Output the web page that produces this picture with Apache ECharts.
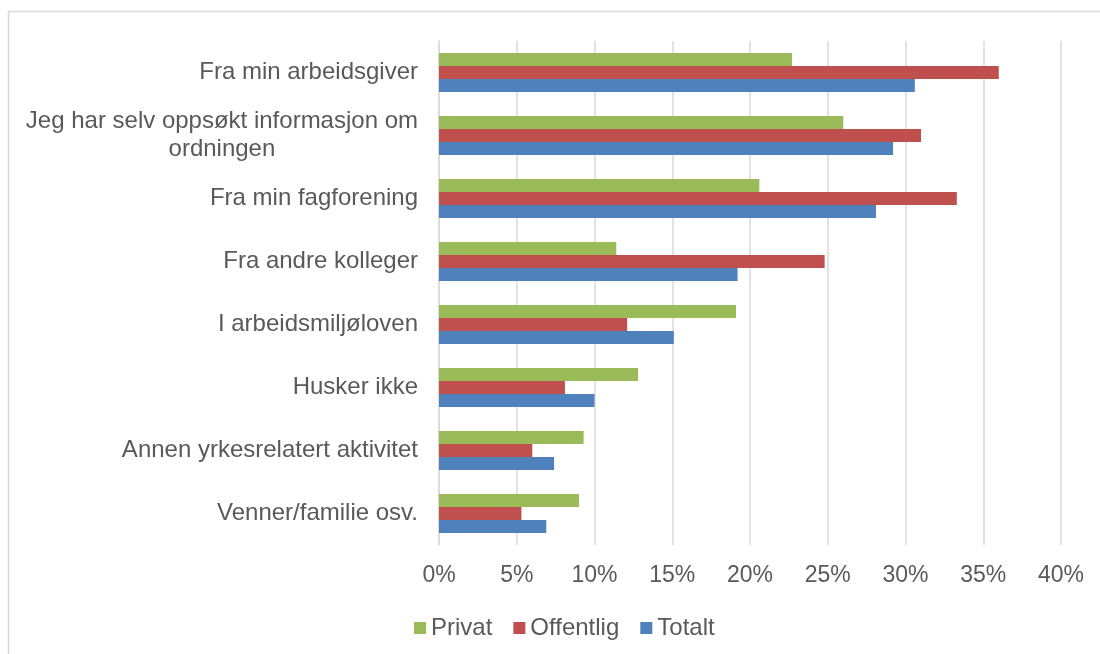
<!DOCTYPE html>
<html>
<head>
<meta charset="utf-8">
<script src="https://cdn.jsdelivr.net/npm/echarts@6/dist/echarts.min.js"></script>
<style>
html,body{margin:0;padding:0;background:#fff;}
#chart{width:1100px;height:654px;}
</style>
</head>
<body>
<div id="chart"></div>
<script>
var categories = [
  "Fra min arbeidsgiver",
  "Jeg har selv oppsøkt informasjon om\nordningen",
  "Fra min fagforening",
  "Fra andre kolleger",
  "I arbeidsmiljøloven",
  "Husker ikke",
  "Annen yrkesrelatert aktivitet",
  "Venner/familie osv."
];
var privat    = [22.7, 26.0, 20.6, 11.4, 19.1, 12.8, 9.3, 9.0];
var offentlig = [36.0, 31.0, 33.3, 24.8, 12.1, 8.1, 6.0, 5.3];
var totalt    = [30.6, 29.2, 28.1, 19.2, 15.1, 10.0, 7.4, 6.9];
var tickValues = [0, 5, 10, 15, 20, 25, 30, 35, 40];

var FONT = '"Liberation Sans", Arial, sans-serif';
var TXT = '#595959';

var chart = echarts.init(document.getElementById('chart'), null, {renderer: 'canvas'});
var option = {
  animation: false,
  backgroundColor: '#fff',
  textStyle: {fontFamily: FONT},
  graphic: [{
    type: 'rect',
    shape: {x: 8.5, y: 11.5, width: 1200, height: 800},
    style: {fill: 'none', stroke: '#d9d9d9', lineWidth: 1.5},
    silent: true, z: -10
  }],
  grid: {left: 439, right: 39, top: 41, bottom: 109, containLabel: false},
  legend: {
    data: ['Privat', 'Offentlig', 'Totalt'],
    left: 409,
    top: 611,
    itemWidth: 12,
    itemHeight: 12,
    itemGap: 21,
    icon: 'rect',
    textStyle: {color: TXT, fontSize: 24, fontFamily: FONT, padding: [0, 0, 0, 0]}
  },
  xAxis: {
    type: 'value',
    min: tickValues[0],
    max: tickValues[tickValues.length - 1],
    interval: 5,
    axisLine: {show: false},
    axisTick: {show: false},
    splitLine: {show: true, lineStyle: {color: '#d9d9d9', width: 1.5}},
    axisLabel: {
      color: TXT, fontSize: 23, fontFamily: FONT, margin: 19,
      formatter: function (v) { return v + '%'; }
    }
  },
  yAxis: {
    type: 'category',
    inverse: true,
    data: categories,
    axisLine: {show: true, lineStyle: {color: '#d9d9d9', width: 1.5}},
    axisTick: {show: false},
    axisLabel: {
      color: TXT, fontSize: 24, fontFamily: FONT, margin: 21,
      lineHeight: 28,
      formatter: function (v) {
        if (v.indexOf('\n') >= 0) {
          var parts = v.split('\n');
          return '{a|' + parts[0] + '}\n{b|' + parts[1] + '}';
        }
        return v;
      },
      rich: {
        a: {color: TXT, fontSize: 24, fontFamily: FONT, lineHeight: 28},
        b: {color: TXT, fontSize: 24, fontFamily: FONT, lineHeight: 28, width: 391, align: 'center'}
      }
    }
  },
  series: [
    {name: 'Privat', type: 'bar', data: privat, barWidth: 13, barGap: '0%',
     itemStyle: {color: '#9BBB59'}},
    {name: 'Offentlig', type: 'bar', data: offentlig, barWidth: 13, barGap: '0%',
     itemStyle: {color: '#C0504D'}},
    {name: 'Totalt', type: 'bar', data: totalt, barWidth: 13, barGap: '0%',
     itemStyle: {color: '#4F81BD'}}
  ]
};
chart.setOption(option);
</script>
</body>
</html>
